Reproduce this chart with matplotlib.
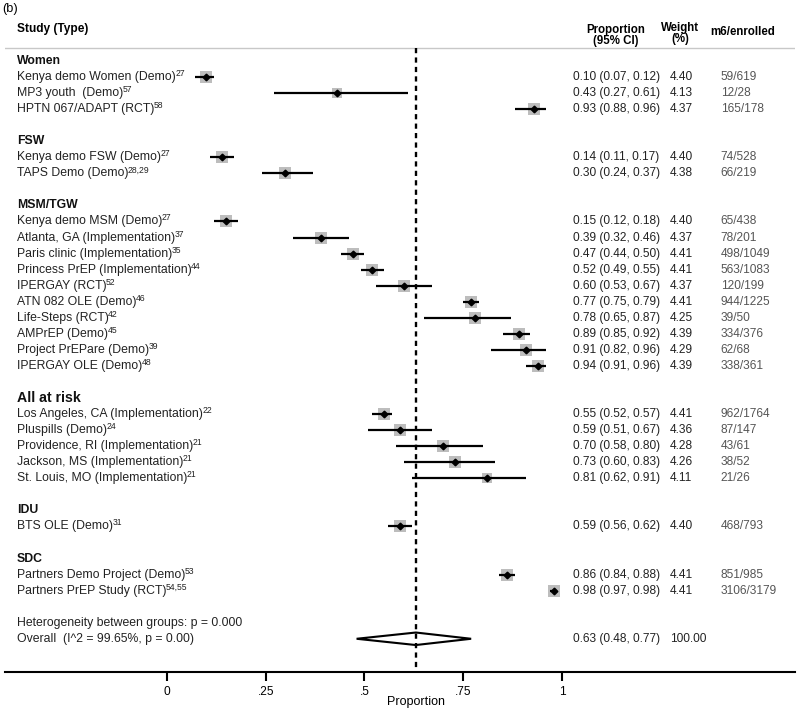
import matplotlib
matplotlib.use("Agg")
import matplotlib.pyplot as plt
from matplotlib.transforms import offset_copy

plt.rcParams['font.family'] = ['Liberation Sans', 'DejaVu Sans']

# data
groups = ["Women", "FSW", "MSM/TGW", "All at risk", "IDU", "SDC"]
group_sizes = [3, 2, 10, 5, 1, 2]

study_names = ["Kenya demo Women (Demo)", "MP3 youth  (Demo)", "HPTN 067/ADAPT (RCT)",
               "Kenya demo FSW (Demo)", "TAPS Demo (Demo)",
               "Kenya demo MSM (Demo)", "Atlanta, GA (Implementation)", "Paris clinic (Implementation)",
               "Princess PrEP (Implementation)", "IPERGAY (RCT)", "ATN 082 OLE (Demo)",
               "Life-Steps (RCT)", "AMPrEP (Demo)", "Project PrEPare (Demo)", "IPERGAY OLE (Demo)",
               "Los Angeles, CA (Implementation)", "Pluspills (Demo)", "Providence, RI (Implementation)",
               "Jackson, MS (Implementation)", "St. Louis, MO (Implementation)",
               "BTS OLE (Demo)",
               "Partners Demo Project (Demo)", "Partners PrEP Study (RCT)"]
study_refs = ["27", "57", "58",
              "27", "28,29",
              "27", "37", "35", "44", "52", "46", "42", "45", "39", "48",
              "22", "24", "21", "21", "21",
              "31",
              "53", "54,55"]
est = [0.10, 0.43, 0.93,
       0.14, 0.30,
       0.15, 0.39, 0.47, 0.52, 0.60, 0.77, 0.78, 0.89, 0.91, 0.94,
       0.55, 0.59, 0.70, 0.73, 0.81,
       0.59,
       0.86, 0.98]
ci_lo = [0.07, 0.27, 0.88,
         0.11, 0.24,
         0.12, 0.32, 0.44, 0.49, 0.53, 0.75, 0.65, 0.85, 0.82, 0.91,
         0.52, 0.51, 0.58, 0.60, 0.62,
         0.56,
         0.84, 0.97]
ci_hi = [0.12, 0.61, 0.96,
         0.17, 0.37,
         0.18, 0.46, 0.50, 0.55, 0.67, 0.79, 0.87, 0.92, 0.96, 0.96,
         0.57, 0.67, 0.80, 0.83, 0.91,
         0.62,
         0.88, 0.98]
weights = [4.40, 4.13, 4.37,
           4.40, 4.38,
           4.40, 4.37, 4.41, 4.41, 4.37, 4.41, 4.25, 4.39, 4.29, 4.39,
           4.41, 4.36, 4.28, 4.26, 4.11,
           4.40,
           4.41, 4.41]
m6 = [59, 12, 165, 74, 66, 65, 78, 498, 563, 120, 944, 39, 334, 62, 338,
      962, 87, 43, 38, 21, 468, 851, 3106]
enrolled = [619, 28, 178, 528, 219, 438, 201, 1049, 1083, 199, 1225, 50, 376, 68, 361,
            1764, 147, 61, 52, 26, 793, 985, 3179]

overall_est, overall_lo, overall_hi = 0.63, 0.48, 0.77
overall_weight = 100.00
het_text = "Heterogeneity between groups: p = 0.000"
overall_text = "Overall  (I^2 = 99.65%, p = 0.00)"

xticks = [0, 0.25, 0.5, 0.75, 1]
xticklabels = ["0", ".25", ".5", ".75", "1"]

fig = plt.figure(figsize=(8, 7.1), dpi=100)
ax = fig.add_axes([5/800, 38/710, 790/800, 672/710])
ax.set_xlim(-0.4101, 1.5899)
ax.set_ylim(38.07, -3.80)
renderer = fig.canvas.get_renderer()

fs = 8.8
fsn = 8.6
x_lab = -0.38
x_prop = 1.028
x_wt = 1.273
x_n = 1.402
txt = "#222222"

# row positions
row = 0
group_rows = []
study_rows = []
for g, n in zip(groups, group_sizes):
    group_rows.append(row)
    row += 1
    for i in range(n):
        study_rows.append(row)
        row += 1
    row += 1
het_row = row
overall_row = row + 1

for g, r in zip(groups, group_rows):
    size = 10.2 if g == "All at risk" else 8.8
    ax.text(x_lab, r, g, fontsize=size, fontweight="bold", va="center", ha="left", color="#111111")

for i, r in enumerate(study_rows):
    t = ax.text(x_lab, r, study_names[i], fontsize=fs, va="center", ha="left", color=txt)
    w = t.get_window_extent(renderer).width
    # superscript reference number right after the label
    ax.text(x_lab, r, study_refs[i], fontsize=6.2, va="center", ha="left", color=txt,
            transform=offset_copy(ax.transData, fig, x=w - 0.5, y=3.5, units="dots"))
    ax.scatter(est[i], r, s=weights[i] * 15, marker="s", color="#bdbdbd", zorder=2, linewidths=0)
    ax.plot([ci_lo[i], ci_hi[i]], [r, r], color="black", lw=1.6, zorder=3, solid_capstyle="butt")
    ax.plot(est[i], r, marker="D", ms=3.4, color="black", zorder=4)
    ax.text(x_prop, r, "%.2f (%.2f, %.2f)" % (est[i], ci_lo[i], ci_hi[i]),
            fontsize=fsn, va="center", ha="left", color=txt)
    ax.text(x_wt, r, "%.2f" % weights[i], fontsize=fsn, va="center", ha="left", color=txt)
    ax.text(x_n, r, "%d/%d" % (m6[i], enrolled[i]), fontsize=fsn, va="center", ha="left", color="#555555")

ax.text(x_lab, het_row, het_text, fontsize=fs, va="center", ha="left", color=txt)
ax.text(x_lab, overall_row, overall_text, fontsize=fs, va="center", ha="left", color=txt)
ax.text(x_prop, overall_row, "%.2f (%.2f, %.2f)" % (overall_est, overall_lo, overall_hi),
        fontsize=fsn, va="center", ha="left", color=txt)
ax.text(x_wt, overall_row, "%.2f" % overall_weight, fontsize=fsn, va="center", ha="left", color=txt)

# overall diamond
dh = 0.39
ax.fill([overall_lo, overall_est, overall_hi, overall_est],
        [overall_row, overall_row - dh, overall_row, overall_row + dh],
        facecolor="white", edgecolor="black", lw=1.5, zorder=3)
ax.plot([overall_est, overall_est], [-0.81, 38.07], color="black", lw=1.7,
        dashes=(2.2, 1.8), zorder=5)

# header
ax.axhline(-0.81, color="#c8c8c8", lw=1.0)
ax.text(x_lab, -2.0, "Study (Type)", fontsize=8.6, fontweight="bold", va="center", ha="left")
ax.text(1.135, -1.59, "Proportion\n(95% CI)", fontsize=8.3, fontweight="bold",
        va="center", ha="center", linespacing=0.95)
ax.text(1.300, -1.70, "Weight\n(%)", fontsize=8.3, fontweight="bold",
        va="center", ha="center", linespacing=0.95)
ax.text(1.458, -1.81, "m6/enrolled", fontsize=8.3, fontweight="bold", va="center", ha="center")

# axis
for s in ["top", "left", "right"]:
    ax.spines[s].set_visible(False)
ax.spines["bottom"].set_linewidth(1.5)
ax.set_yticks([])
ax.set_xticks(xticks)
ax.set_xticklabels(xticklabels, fontsize=fsn)
ax.tick_params(axis="x", length=6.5, width=1.5, pad=3.5, colors="black")
ax.text(overall_est, 38.07 + 1.86, "Proportion", fontsize=9, ha="center", va="center")

fig.text(2/800, 1 - 9/710, "(b)", fontsize=9.2, ha="left", va="center")

fig.savefig("out.png", dpi=100)
